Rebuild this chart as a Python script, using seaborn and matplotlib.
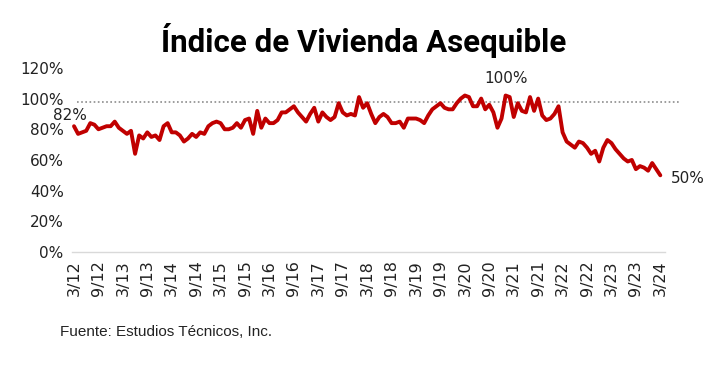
import numpy as np
import pandas as pd
import matplotlib
matplotlib.use("Agg")
import matplotlib.pyplot as plt
import seaborn as sns

# -------------------------------------------------------------------------
# Data (monthly index, 3/2012 .. 3/2024)
# -------------------------------------------------------------------------

VALUES = [
    82, 77, 78, 79, 84, 83, 80, 81, 82, 82, 85, 81,   # 2012-03 .. 2013-02
    79, 77, 79, 64, 76, 74, 78, 75, 76, 73, 82, 84,   # 2013-03 .. 2014-02
    78, 78, 76, 72, 74, 77, 75, 78, 77, 82, 84, 85,   # 2014-03 .. 2015-02
    84, 80, 80, 81, 84, 81, 86, 87, 77, 92, 81, 87,   # 2015-03 .. 2016-02
    84, 84, 86, 91, 91, 93, 95, 91, 88, 85, 90, 94,   # 2016-03 .. 2017-02
    85, 91, 88, 86, 88, 97, 91, 89, 90, 89, 101, 94,  # 2017-03 .. 2018-02
    97, 90, 84, 88, 90, 88, 84, 84, 85, 81, 87, 87,   # 2018-03 .. 2019-02
    87, 86, 84, 89, 93, 95, 97, 94, 93, 93, 97, 100,  # 2019-03 .. 2020-02
    102, 101, 95, 95, 100, 93, 96, 91, 81, 87, 102, 101,  # 2020-03 .. 2021-02
    88, 97, 92, 91, 101, 92, 100, 89, 86, 87, 90, 95,  # 2021-03 .. 2022-02
    78, 72, 70, 68, 72, 71, 68, 64, 66, 59, 68, 73,   # 2022-03 .. 2023-02
    71, 67, 64, 61, 59, 60, 54, 56, 55, 53, 58, 54,   # 2023-03 .. 2024-02
    50,                                               # 2024-03
]
TICK_LABELS = ["3/12", "9/12", "3/13", "9/13", "3/14", "9/14", "3/15", "9/15",
               "3/16", "9/16", "3/17", "9/17", "3/18", "9/18", "3/19", "9/19",
               "3/20", "9/20", "3/21", "9/21", "3/22", "9/22", "3/23", "9/23",
               "3/24"]
Y_TICKS = [0, 20, 40, 60, 80, 100, 120]
REFERENCE = 98
ANNOTATIONS = {0: "82%", 106: "100%", 144: "50%"}

TITLE = "Índice de Vivienda Asequible"
SOURCE = "Fuente: Estudios Técnicos, Inc."

LINE_COLOR = "#C00000"
TEXT_COLOR = "#222222"

# -------------------------------------------------------------------------
# Plot
# -------------------------------------------------------------------------

df = pd.DataFrame({"month": np.arange(len(VALUES)), "value": VALUES})

sns.set_theme(style="white")
plt.rcParams["font.family"] = ["DejaVu Sans"]

fig = plt.figure(figsize=(7.27, 3.69), dpi=100)
ax = fig.add_axes([0.099, 0.317, 0.816, 0.499])

sns.lineplot(data=df, x="month", y="value", ax=ax,
             color=LINE_COLOR, linewidth=2.8)

ax.hlines(REFERENCE, 0.7, 149, colors="#8c8c8c", linestyles=(0, (1, 1.5)),
          linewidth=1.2, clip_on=False, zorder=1)

ax.set_xlim(-0.5, 145.2)
ax.set_ylim(0, 120)
ax.set_yticks(Y_TICKS)
ax.set_yticklabels([f"{t}%" for t in Y_TICKS], fontsize=11, color=TEXT_COLOR)
ax.set_xticks(np.arange(0, len(VALUES), 6))
ax.set_xticklabels(TICK_LABELS, rotation=90, fontsize=11.5, color=TEXT_COLOR)
ax.tick_params(axis="both", length=0, pad=6)
ax.set_xlabel("")
ax.set_ylabel("")

for side in ["top", "right", "left"]:
    ax.spines[side].set_visible(False)
ax.spines["bottom"].set_color("#d9d9d9")
ax.spines["bottom"].set_linewidth(1.0)

# value labels
ax.text(-1, VALUES[0] + 2, ANNOTATIONS[0], ha="center", va="bottom",
        fontsize=11, color=TEXT_COLOR)
ax.text(106, VALUES[106] + 6, ANNOTATIONS[106], ha="center", va="bottom",
        fontsize=11, color=TEXT_COLOR)
ax.text(144 + 2.5, VALUES[144] - 2, ANNOTATIONS[144], ha="left", va="center",
        fontsize=11, color=TEXT_COLOR, clip_on=False)

fig.text(0.5, 0.89, TITLE, ha="center", va="center", fontsize=22.5,
         fontweight="bold", color="black", family=["Roboto", "DejaVu Sans"])
fig.text(0.083, 0.1, SOURCE, ha="left", va="center", fontsize=11,
         family=["Liberation Sans", "DejaVu Sans"], color=TEXT_COLOR)

plt.savefig("out.png", dpi=100)
plt.close()
